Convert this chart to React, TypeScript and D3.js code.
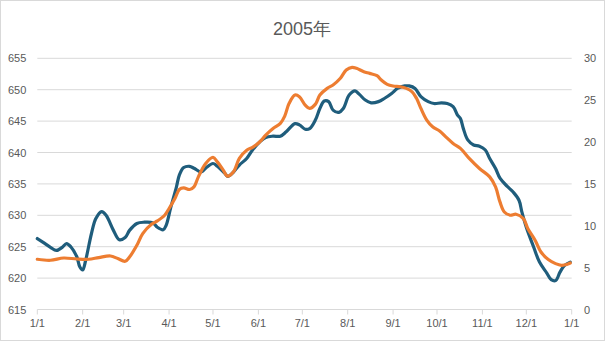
import React from "react";
import * as d3 from "d3";

const title = "2005年";
const leftTicks = [615, 620, 625, 630, 635, 640, 645, 650, 655];
const rightTicks = [0, 5, 10, 15, 20, 25, 30];
const monthTicks = ["2005-01-01","2005-02-01","2005-03-01","2005-04-01","2005-05-01","2005-06-01","2005-07-01","2005-08-01","2005-09-01","2005-10-01","2005-11-01","2005-12-01","2006-01-01"];

const blueDates = ["01-01","01-05","01-10","01-14","01-18","01-21","01-24","01-28","01-30","02-01","02-03","02-07","02-10","02-14","02-17","02-22","02-26","03-02","03-05","03-10","03-15","03-21","03-24","03-28","03-30","04-02","04-06","04-08","04-11","04-15","04-18","04-23","04-26","05-01","05-04","05-09","05-11","05-15","05-19","05-24","05-28","06-02","06-06","06-11","06-16","06-20","06-26","06-29","07-03","07-06","07-10","07-13","07-16","07-19","07-22","07-26","07-29","08-02","08-06","08-09","08-13","08-17","08-22","08-26","08-31","09-04","09-09","09-12","09-16","09-20","09-25","09-29","10-04","10-08","10-12","10-15","10-17","10-19","10-22","10-26","10-30","11-03","11-06","11-10","11-13","11-18","11-22","11-26","11-28","12-01","12-06","12-10","12-15","12-18","12-21","12-24","12-27","12-31"];
const blueValues = [626.3,625.7,624.9,624.4,624.9,625.5,624.95,623.4,621.8,621.3,622.8,627.1,629.5,630.6,630.0,627.6,626.1,626.45,627.6,628.7,628.9,628.8,628.1,627.7,628.4,631.1,634.5,636.4,637.6,637.8,637.5,636.9,637.5,638.25,637.8,636.7,636.2,636.9,638.0,639.05,640.4,641.7,642.4,642.6,642.6,643.3,644.6,644.4,643.7,643.8,645.2,647.0,648.2,648.1,646.75,646.4,647.0,649.15,649.8,649.25,648.35,647.9,648.1,648.6,649.4,650.2,650.6,650.6,650.2,648.9,648.1,647.8,647.9,647.8,647.3,645.95,645.4,643.8,642.0,641.2,641.0,640.4,639.05,637.45,635.9,634.6,633.7,632.4,630.5,628.1,624.95,622.55,620.8,619.75,619.6,620.95,622.0,622.55];

const orangeDates = ["01-01","01-10","01-19","01-28","02-05","02-12","02-20","02-25","03-02","03-05","03-10","03-14","03-20","03-24","03-29","04-01","04-05","04-08","04-11","04-15","04-18","04-21","04-26","05-01","05-04","05-08","05-11","05-15","05-19","05-24","05-28","06-02","06-06","06-11","06-16","06-19","06-22","06-26","06-29","07-03","07-06","07-10","07-13","07-18","07-22","07-27","07-31","08-04","08-07","08-12","08-16","08-21","08-24","08-28","09-01","09-06","09-10","09-14","09-17","09-20","09-24","09-28","10-03","10-07","10-12","10-17","10-23","10-30","11-06","11-10","11-13","11-16","11-20","11-24","11-29","12-02","12-07","12-11","12-16","12-21","12-25","12-29","12-31"];
const orangeValues = [6.0,5.88,6.15,6.03,6.0,6.2,6.39,6.08,5.76,6.27,7.67,9.07,10.18,10.58,11.26,12.06,13.25,14.33,14.52,14.33,14.64,15.84,17.44,18.16,17.63,16.64,15.92,16.44,18.04,19.03,19.36,20.03,20.83,21.63,22.23,23.1,24.62,25.61,25.41,24.41,24.02,24.53,25.61,26.41,26.81,27.61,28.6,28.92,28.8,28.4,28.2,27.92,27.4,26.89,26.69,26.6,26.41,26.0,25.22,24.02,22.62,21.82,21.3,20.62,19.83,19.24,18.04,16.84,15.84,14.64,12.85,11.65,11.26,11.38,10.86,9.67,8.27,6.87,5.96,5.48,5.28,5.4,5.55];

const W = 605, H = 341;
const left = 37.3, right = 571.7, top = 58.3, bottom = 309.5;

export default function App() {
  const parse = d3.timeParse("%Y-%m-%d");
  const x = d3.scaleTime().domain([parse("2005-01-01")!, parse("2006-01-01")!]).range([left, right]);
  const yL = d3.scaleLinear().domain([615, 655]).range([bottom, top]);
  const yR = d3.scaleLinear().domain([0, 30]).range([bottom, top]);
  const blue = blueDates.map((d, i) => ({ t: parse("2005-" + d)!, v: blueValues[i] }));
  const orange = orangeDates.map((d, i) => ({ t: parse("2005-" + d)!, v: orangeValues[i] }));
  const lineB = d3.line<{ t: Date; v: number }>().x(d => x(d.t)).y(d => yL(d.v)).curve(d3.curveCatmullRom.alpha(0.5));
  const lineO = d3.line<{ t: Date; v: number }>().x(d => x(d.t)).y(d => yR(d.v)).curve(d3.curveCatmullRom.alpha(0.5));
  const font = "'Liberation Sans', Arial, sans-serif";
  const fmt = d3.timeFormat("%-m/%-d");
  return (
    <svg width={W} height={H} style={{ position: "absolute", left: 0, top: 0 }} fontFamily={font}>
      <rect x={0.5} y={0.5} width={W - 1} height={H - 1} fill="#fff" stroke="#d9d9d9" />
      <text x={302} y={35} textAnchor="middle" fontSize={18} fill="#595959">{title}</text>
      {leftTicks.map(t => (
        <g key={"l" + t}>
          <line x1={left} x2={right} y1={yL(t)} y2={yL(t)} stroke="#d9d9d9" strokeWidth={1} />
          <text x={8} y={yL(t) + 4} fontSize={11} fill="#595959">{t}</text>
        </g>
      ))}
      {rightTicks.map(t => (
        <text key={"r" + t} x={584} y={yR(t) + 4} fontSize={11} fill="#595959">{t}</text>
      ))}
      {monthTicks.map(s => {
        const d = parse(s)!;
        return (
          <g key={s}>
            <line x1={x(d)} x2={x(d)} y1={bottom} y2={bottom + 5} stroke="#d9d9d9" />
            <text x={x(d)} y={bottom + 17} textAnchor="middle" fontSize={11} fill="#595959">{fmt(d)}</text>
          </g>
        );
      })}
      <path d={lineB(blue)!} fill="none" stroke="#1f5d7c" strokeWidth={3.2} strokeLinejoin="round" strokeLinecap="round" />
      <path d={lineO(orange)!} fill="none" stroke="#ed7d31" strokeWidth={3.2} strokeLinejoin="round" strokeLinecap="round" />
    </svg>
  );
}
